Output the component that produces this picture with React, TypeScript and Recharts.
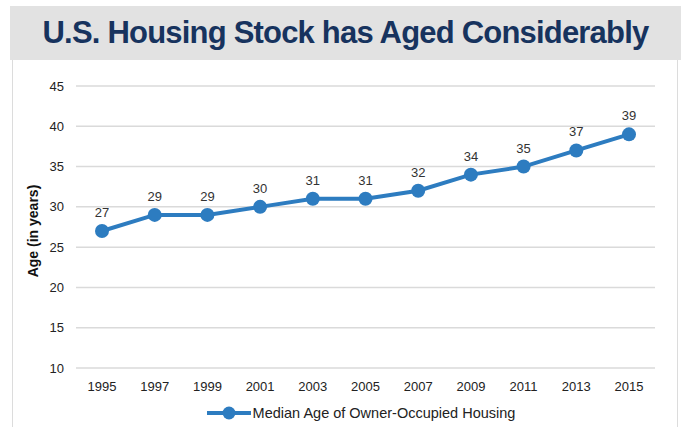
import React from 'react';
import { LineChart, Line, XAxis, YAxis, CartesianGrid, LabelList, Legend } from 'recharts';

const years = ['1995', '1997', '1999', '2001', '2003', '2005', '2007', '2009', '2011', '2013', '2015'];
const medianAge = [27, 29, 29, 30, 31, 31, 32, 34, 35, 37, 39];
const yTicks = [10, 15, 20, 25, 30, 35, 40, 45];
const seriesName = 'Median Age of Owner-Occupied Housing';
const title = 'U.S. Housing Stock has Aged Considerably';

const data = years.map((y, i) => ({ year: y, age: medianAge[i] }));

const BLUE = '#2d7cc0';
const FONT = '"Liberation Sans", Arial, Helvetica, sans-serif';

const LegendContent = () => (
  <div style={{ display: 'flex', justifyContent: 'center', alignItems: 'center', paddingTop: 9, paddingLeft: 40, fontFamily: FONT, fontSize: 14.5, color: '#222' }}>
    <svg width={46} height={16} style={{ marginRight: 1 }}>
      <line x1={1} y1={8} x2={45} y2={8} stroke={BLUE} strokeWidth={4} />
      <circle cx={23} cy={8} r={6.5} fill={BLUE} />
    </svg>
    <span>{seriesName}</span>
  </div>
);

export default function App() {
  return (
    <div style={{ position: 'absolute', left: 0, top: 0, width: 681, height: 427, background: '#fff', overflow: 'hidden' }}>
      <div style={{ position: 'absolute', left: 10, top: 6, width: 671, height: 54, background: '#e2e2e2' }} />
      <div style={{ position: 'absolute', left: 12, top: 60, width: 664, height: 380, border: '1px solid #dcdcdc', borderTop: 'none', background: '#fff' }} />
      <div style={{ position: 'absolute', left: 10, top: 6, width: 671, height: 54, display: 'flex', alignItems: 'center', justifyContent: 'center', fontFamily: FONT, fontWeight: 'bold', fontSize: 31, letterSpacing: -0.8, color: '#17335e' }}>
        {title}
      </div>
      <div style={{ position: 'absolute', left: 0, top: 0 }}>
        <LineChart width={681} height={427} data={data} margin={{ top: 86, right: 26, left: 26, bottom: 5 }}>
          <CartesianGrid vertical={false} stroke="#dadada" strokeWidth={1.5} />
          <XAxis
            dataKey="year"
            axisLine={false}
            tickLine={false}
            padding={{ left: 26, right: 26 }}
            tick={{ fontSize: 13, fill: '#222', fontFamily: FONT }}
            height={28}
            tickMargin={8}
          />
          <YAxis
            domain={[10, 45]}
            ticks={yTicks}
            axisLine={false}
            tickLine={false}
            width={50}
            tick={{ fontSize: 13, fill: '#222', fontFamily: FONT }}
            tickMargin={6}
            label={{ value: 'Age (in years)', angle: -90, position: 'insideLeft', offset: 7, dy: 4, style: { textAnchor: 'middle', fontSize: 14, fontWeight: 'bold', fill: '#111', fontFamily: FONT } }}
          />
          <Legend verticalAlign="bottom" height={26} content={<LegendContent />} />
          <Line
            type="linear"
            dataKey="age"
            name={seriesName}
            stroke={BLUE}
            strokeWidth={4}
            dot={{ r: 7, fill: BLUE, stroke: BLUE, strokeWidth: 0 }}
            isAnimationActive={false}
          >
            <LabelList dataKey="age" position="top" offset={14} style={{ fontSize: 13, fill: '#333', fontFamily: FONT }} />
          </Line>
        </LineChart>
      </div>
    </div>
  );
}
